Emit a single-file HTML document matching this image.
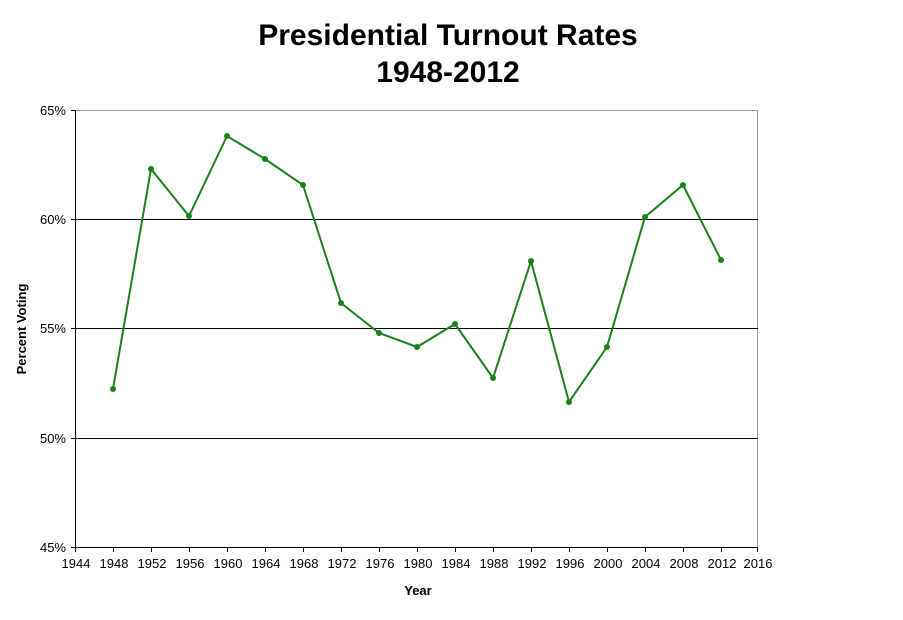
<!DOCTYPE html>
<html><head><style>body{margin:0;background:#fff}</style></head><body>
<svg width="903" height="615" xmlns="http://www.w3.org/2000/svg" font-family="Liberation Sans, sans-serif">
<rect width="903" height="615" fill="#fff"/>
<text x="448" y="45" font-size="30" font-weight="bold" text-anchor="middle">Presidential Turnout Rates</text>
<text x="448" y="82" font-size="30" font-weight="bold" text-anchor="middle">1948-2012</text>
<rect x="75.5" y="110.5" width="682" height="437" fill="none" stroke="#999" stroke-width="1"/>
<g stroke="#000" stroke-width="1">
<line x1="75" y1="219.5" x2="758" y2="219.5"/>
<line x1="75" y1="328.5" x2="758" y2="328.5"/>
<line x1="75" y1="438.5" x2="758" y2="438.5"/>
<line x1="75.5" y1="110" x2="75.5" y2="548"/>
<line x1="71" y1="547.5" x2="758" y2="547.5"/>
<line x1="71" y1="110.5" x2="75" y2="110.5"/><line x1="71" y1="219.5" x2="75" y2="219.5"/><line x1="71" y1="328.5" x2="75" y2="328.5"/><line x1="71" y1="438.5" x2="75" y2="438.5"/>
</g>
<g font-size="13" text-anchor="end">
<text x="66" y="115">65%</text><text x="66" y="224">60%</text><text x="66" y="333">55%</text><text x="66" y="443">50%</text><text x="66" y="552">45%</text>
</g>
<text x="418" y="595" font-size="13" font-weight="bold" text-anchor="middle">Year</text>
<text transform="translate(26,329) rotate(-90)" font-size="13" font-weight="bold" text-anchor="middle">Percent Voting</text>
<polyline fill="none" stroke="#1a801a" stroke-width="2" points="113,389 151,169 189,216 227,136 265,159 303,185 341,303 379,333 417,347 455,324 493,378 531,261 569,402 607,347 645,217 683,185 721,260"/>
<g fill="#1a801a">
<circle cx="113" cy="389" r="3"/><circle cx="151" cy="169" r="3"/><circle cx="189" cy="216" r="3"/><circle cx="227" cy="136" r="3"/><circle cx="265" cy="159" r="3"/><circle cx="303" cy="185" r="3"/><circle cx="341" cy="303" r="3"/><circle cx="379" cy="333" r="3"/><circle cx="417" cy="347" r="3"/><circle cx="455" cy="324" r="3"/><circle cx="493" cy="378" r="3"/><circle cx="531" cy="261" r="3"/><circle cx="569" cy="402" r="3"/><circle cx="607" cy="347" r="3"/><circle cx="645" cy="217" r="3"/><circle cx="683" cy="185" r="3"/><circle cx="721" cy="260" r="3"/>
</g>
<g stroke="#000">
<line x1="75.5" y1="547" x2="75.5" y2="552"/><line x1="113.5" y1="547" x2="113.5" y2="552"/><line x1="151.5" y1="547" x2="151.5" y2="552"/><line x1="189.5" y1="547" x2="189.5" y2="552"/><line x1="227.5" y1="547" x2="227.5" y2="552"/><line x1="265.5" y1="547" x2="265.5" y2="552"/><line x1="303.5" y1="547" x2="303.5" y2="552"/><line x1="341.5" y1="547" x2="341.5" y2="552"/><line x1="379.5" y1="547" x2="379.5" y2="552"/><line x1="417.5" y1="547" x2="417.5" y2="552"/><line x1="455.5" y1="547" x2="455.5" y2="552"/><line x1="493.5" y1="547" x2="493.5" y2="552"/><line x1="531.5" y1="547" x2="531.5" y2="552"/><line x1="569.5" y1="547" x2="569.5" y2="552"/><line x1="607.5" y1="547" x2="607.5" y2="552"/><line x1="645.5" y1="547" x2="645.5" y2="552"/><line x1="683.5" y1="547" x2="683.5" y2="552"/><line x1="721.5" y1="547" x2="721.5" y2="552"/><line x1="757.5" y1="547" x2="757.5" y2="552"/>
</g>
<g font-size="13" text-anchor="middle">
<text x="76" y="568">1944</text><text x="114" y="568">1948</text><text x="152" y="568">1952</text><text x="190" y="568">1956</text><text x="228" y="568">1960</text><text x="266" y="568">1964</text><text x="304" y="568">1968</text><text x="342" y="568">1972</text><text x="380" y="568">1976</text><text x="418" y="568">1980</text><text x="456" y="568">1984</text><text x="494" y="568">1988</text><text x="532" y="568">1992</text><text x="570" y="568">1996</text><text x="608" y="568">2000</text><text x="646" y="568">2004</text><text x="684" y="568">2008</text><text x="722" y="568">2012</text><text x="758" y="568">2016</text>
</g>
</svg>
</body></html>
